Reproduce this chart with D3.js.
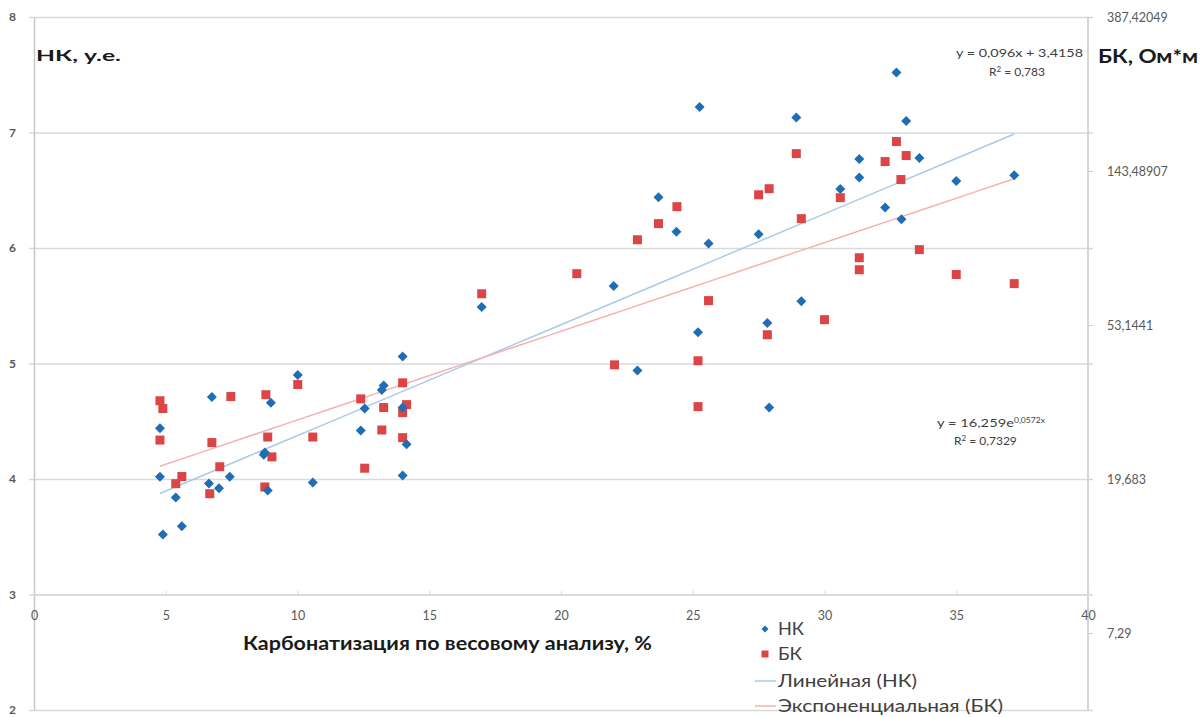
<!DOCTYPE html>
<html>
<head>
<meta charset="utf-8">
<script src="https://cdn.jsdelivr.net/npm/d3@7"></script>
<style>
  body { margin: 0; background: #fff; }
  svg text { font-family: Lato, "Open Sans", sans-serif; }
</style>
</head>
<body>
<svg id="chart"></svg>
<script>
// carbonatization, % (x) and NK, arb. units (left axis)
const nkX = [4.78, 4.78, 4.89, 5.38, 5.61, 6.75, 6.64, 7.02, 7.43, 8.72, 8.76, 8.87, 8.99, 10.01, 10.58,
  12.4, 12.55, 13.2, 13.27, 13.99, 13.99, 13.99, 14.14, 16.99, 22.0, 22.9, 23.7, 24.38, 25.26, 25.2,
  25.6, 27.5, 27.83, 27.9, 28.93, 29.12, 30.6, 31.32, 31.32, 32.3, 32.73, 32.92, 33.1, 33.6, 35.0, 37.2];
const nkY = [4.44, 4.02, 3.52, 3.84, 3.59, 4.71, 3.96, 3.92, 4.02, 4.21, 4.23, 3.90, 4.66, 4.90, 3.97,
  4.42, 4.61, 4.77, 4.81, 5.06, 4.03, 4.62, 4.30, 5.49, 5.67, 4.94, 6.44, 6.14, 7.22, 5.27,
  6.04, 6.12, 5.35, 4.62, 7.13, 5.54, 6.51, 6.77, 6.61, 6.35, 7.52, 6.25, 7.10, 6.78, 6.58, 6.63];

// carbonatization, % (x) and BK, Ohm*m (right axis)
const bkX = [4.78, 4.89, 4.78, 6.75, 7.47, 8.8, 10.01, 8.87, 9.03, 10.58, 7.05, 5.61, 5.38, 6.67, 8.76,
  12.4, 12.55, 13.27, 13.2, 13.99, 13.99, 14.14, 13.99, 16.99, 20.6, 22.03, 22.9, 23.7, 24.4, 25.2,
  25.2, 25.6, 27.5, 27.9, 27.83, 28.93, 29.12, 30.0, 30.6, 31.32, 31.32, 32.3, 32.73, 33.1, 32.9,
  33.6, 35.0, 37.2];
const bkY = [32.6, 31.0, 25.3, 24.9, 33.5, 33.9, 36.2, 25.8, 22.7, 25.8, 21.3, 20.0, 19.1, 17.9, 18.7,
  33.0, 21.1, 31.2, 27.0, 36.6, 30.2, 31.8, 25.7, 65.0, 74.0, 41.1, 92.1, 102.2, 114.0, 42.2,
  31.4, 62.2, 123.1, 128.0, 49.9, 160.5, 105.5, 55.0, 120.8, 82.0, 75.9, 152.5, 173.5, 158.5, 135.8,
  86.4, 73.6, 69.4];

// trend lines as printed on the chart
const linCoef = [0.096, 3.4158];
const expCoef = [16.259, 0.0572];

const xTicks = [0, 5, 10, 15, 20, 25, 30, 35, 40];
const leftTicks = [2, 3, 4, 5, 6, 7, 8];
const rightTicks = [387.42049, 143.48907, 53.1441, 19.683, 7.29];
const rightTickLabels = ["387,42049", "143,48907", "53,1441", "19,683", "7,29"];
const rightDomain = [4.4366, 387.42049];

// stretch a text element to the width it takes in the picture
function fit(sel, w) {
  return sel.attr('textLength', w).attr('lengthAdjust', 'spacingAndGlyphs');
}

class DualAxisScatter {
  constructor(_config) {
    this.config = {
      parentElement: _config.parentElement,
      containerWidth: _config.containerWidth || 1204,
      containerHeight: _config.containerHeight || 717,
      margin: {top: 17, right: 116, bottom: 7, left: 34}
    };
    this.initVis();
  }

  initVis() {
    let vis = this;
    const m = vis.config.margin;
    vis.width = vis.config.containerWidth - m.left - m.right;
    vis.height = vis.config.containerHeight - m.top - m.bottom;

    vis.svg = d3.select(vis.config.parentElement)
      .attr('width', vis.config.containerWidth)
      .attr('height', vis.config.containerHeight);

    vis.chart = vis.svg.append('g')
      .attr('transform', `translate(${m.left}, ${m.top})`);

    vis.xScale = d3.scaleLinear().domain([0, 40]).range([0, vis.width]);
    vis.yScale = d3.scaleLinear().domain([2, 8]).range([vis.height, 0]);
    vis.y2Scale = d3.scaleLog().base(2.7).domain(rightDomain).range([vis.height, 0]);

    vis.renderAxes();
    vis.renderVis();
  }

  renderAxes() {
    let vis = this;
    const grey = '#595959';

    // horizontal gridlines (left axis ticks)
    vis.chart.append('g')
      .attr('class', 'grid')
      .call(d3.axisLeft(vis.yScale).tickValues(leftTicks).tickSize(-vis.width - 5).tickFormat(''))
      .call(g => g.select('.domain').remove())
      .call(g => g.selectAll('line').attr('stroke', '#d9d9d9').attr('stroke-width', 1.6).attr('x1', -5));

    // left axis
    const yAxis = vis.chart.append('g')
      .call(d3.axisLeft(vis.yScale).tickValues(leftTicks).tickSize(0).tickPadding(18).tickFormat(d3.format('d')));
    yAxis.select('.domain').attr('stroke', '#c8c8c8').attr('stroke-width', 1.5);
    yAxis.selectAll('text').attr('fill', grey).style('font-size', '12px').style('font-weight', 'bold');

    // right axis (log, base 2.7)
    const y2Axis = vis.chart.append('g')
      .attr('transform', `translate(${vis.width},0)`)
      .call(d3.axisRight(vis.y2Scale).tickValues(rightTicks).tickSize(5).tickPadding(14)
        .tickFormat((d, i) => rightTickLabels[i]));
    y2Axis.select('.domain').attr('stroke', '#c8c8c8').attr('stroke-width', 1.5).attr('d', `M0,0V${vis.height}`);
    y2Axis.selectAll('line').attr('stroke', '#d0d0d0');
    y2Axis.selectAll('text').attr('fill', grey).style('font-size', '12.5px');

    // bottom axis crossing at 3
    const xAxis = vis.chart.append('g')
      .attr('transform', `translate(0,${vis.yScale(3)})`)
      .call(d3.axisBottom(vis.xScale).tickValues(xTicks).tickSize(-4).tickPadding(17));
    xAxis.select('.domain').attr('stroke', '#d9d9d9').attr('stroke-width', 1.6);
    xAxis.selectAll('line').attr('stroke', '#d9d9d9');
    xAxis.selectAll('text').attr('fill', grey).style('font-size', '12.5px');

    // axis titles
    fit(vis.svg.append('text')
      .attr('x', 36).attr('y', 61)
      .style('font-size', '16px').style('font-weight', 'bold').attr('fill', '#1a1a1a')
      .text('НК, у.е.'), 85);
    fit(vis.svg.append('text')
      .attr('x', 1098).attr('y', 63)
      .style('font-size', '18px').style('font-weight', 'bold').attr('fill', '#1a1a1a')
      .text('БК, Ом*м'), 100);
    fit(vis.svg.append('text')
      .attr('x', 243).attr('y', 650)
      .style('font-size', '18px').style('font-weight', 'bold').attr('fill', '#1a1a1a')
      .text('Карбонатизация по весовому анализу, %'), 409);
  }

  renderVis() {
    let vis = this;
    const blue = '#1f6db5', red = '#dc4545';
    const xMin = d3.min(nkX), xMax = d3.max(nkX);
    const trendX = d3.range(0, 21).map(i => xMin + (xMax - xMin) * i / 20);

    // trend lines
    vis.chart.append('path')
      .datum(trendX)
      .attr('fill', 'none').attr('stroke', '#a9cbe8').attr('stroke-width', 1.5)
      .attr('d', d3.line().x(d => vis.xScale(d)).y(d => vis.yScale(linCoef[0] * d + linCoef[1])));
    vis.chart.append('path')
      .datum(trendX)
      .attr('fill', 'none').attr('stroke', '#f5b0b0').attr('stroke-width', 1.5)
      .attr('d', d3.line().x(d => vis.xScale(d)).y(d => vis.y2Scale(expCoef[0] * Math.exp(expCoef[1] * d))));

    // BK squares
    vis.chart.append('g')
      .selectAll('rect')
      .data(bkX.map((x, i) => ({x: x, y: bkY[i]})))
      .enter()
      .append('rect')
        .attr('x', d => vis.xScale(d.x) - 4.5)
        .attr('y', d => vis.y2Scale(d.y) - 4.5)
        .attr('width', 9).attr('height', 9)
        .attr('fill', red);

    // NK diamonds
    vis.chart.append('g')
      .selectAll('path')
      .data(nkX.map((x, i) => ({x: x, y: nkY[i]})))
      .enter()
      .append('path')
        .attr('transform', d => `translate(${vis.xScale(d.x)},${vis.yScale(d.y)})`)
        .attr('d', 'M0,-5L5,0L0,5L-5,0Z')
        .attr('fill', blue);

    // equations
    const eq = vis.svg.append('g').attr('fill', '#404040').style('font-size', '12px');
    fit(eq.append('text').attr('x', 956).attr('y', 57).text('y = 0,096x + 3,4158'), 127);
    const r1 = eq.append('text').attr('x', 989).attr('y', 76);
    r1.append('tspan').text('R');
    r1.append('tspan').attr('dy', -4).style('font-size', '8px').text('2');
    r1.append('tspan').attr('dy', 4).text(' = 0,783');
    const e1 = eq.append('text').attr('x', 937).attr('y', 427);
    e1.append('tspan').text('y = 16,259e');
    e1.append('tspan').attr('dy', -4).style('font-size', '7px').text('0,0572x');
    fit(e1, 108);
    const r2 = eq.append('text').attr('x', 954).attr('y', 445);
    r2.append('tspan').text('R');
    r2.append('tspan').attr('dy', -4).style('font-size', '8px').text('2');
    r2.append('tspan').attr('dy', 4).text(' = 0,7329');

    // legend
    const legend = vis.svg.append('g').attr('transform', 'translate(765,0)');
    const items = [
      {label: 'НК', y: 629, type: 'diamond', w: 26},
      {label: 'БК', y: 654, type: 'square', w: 24},
      {label: 'Линейная (НК)', y: 681, type: 'lin', w: 139},
      {label: 'Экспоненциальная (БК)', y: 706, type: 'exp', w: 225}
    ];
    items.forEach(it => {
      if (it.type === 'diamond') {
        legend.append('path').attr('d', 'M0,-3.5L3.5,0L0,3.5L-3.5,0Z')
          .attr('transform', `translate(0,${it.y})`).attr('fill', blue);
      } else if (it.type === 'square') {
        legend.append('rect').attr('x', -3.5).attr('y', it.y - 3.5).attr('width', 7).attr('height', 7).attr('fill', red);
      } else {
        legend.append('line').attr('x1', -10).attr('x2', 11).attr('y1', it.y).attr('y2', it.y)
          .attr('stroke', it.type === 'lin' ? '#a9cbe8' : '#f5b0b0').attr('stroke-width', 1.5);
      }
      fit(legend.append('text').attr('x', 13).attr('y', it.y + 6)
        .attr('fill', '#404040').style('font-size', '18px').text(it.label), it.w);
    });
  }
}

new DualAxisScatter({parentElement: '#chart'});
</script>
</body>
</html>
